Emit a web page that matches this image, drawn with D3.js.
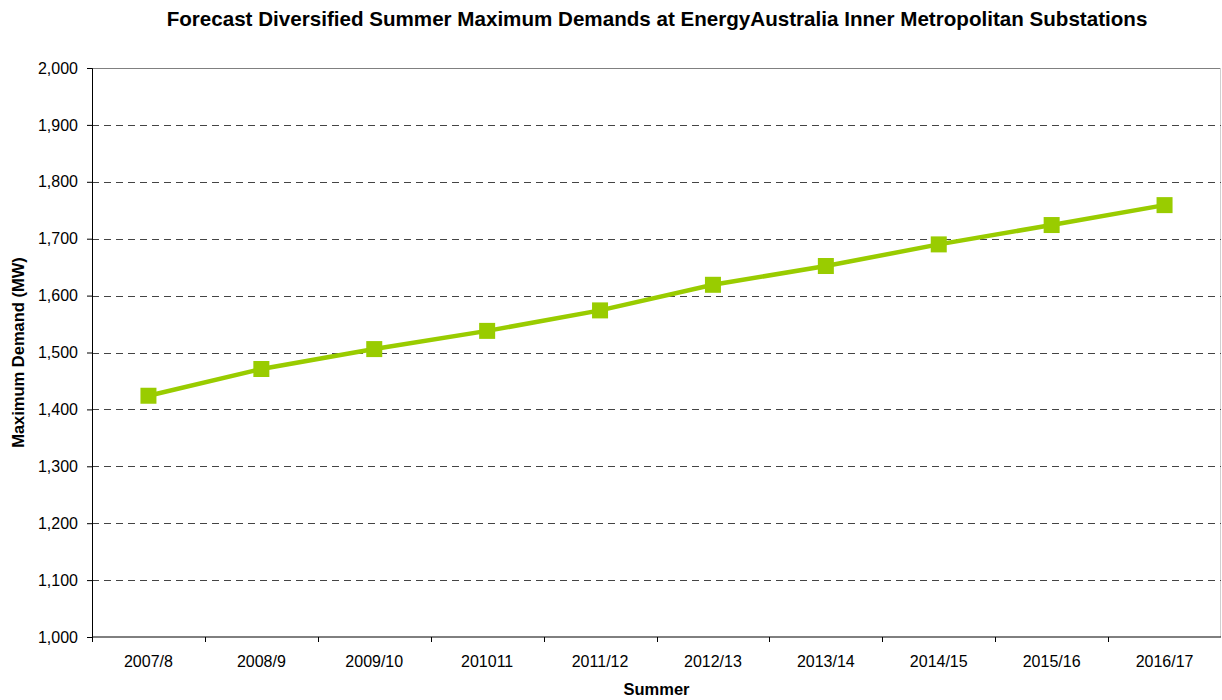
<!DOCTYPE html>
<html>
<head>
<meta charset="utf-8">
<script src="https://cdn.jsdelivr.net/npm/d3@7"></script>
<style>
  body { margin: 0; background: #fff; }
  svg { display: block; font-family: Arial, "Liberation Sans", sans-serif; }
</style>
</head>
<body>
<div id="chart"></div>
<script>
// Chart data
const seasons = ['2007/8', '2008/9', '2009/10', '201011', '2011/12', '2012/13', '2013/14', '2014/15', '2015/16', '2016/17'];
const demand = [1424, 1471, 1506, 1538, 1574, 1619, 1652, 1690, 1724, 1759];
const yTicks = [1000, 1100, 1200, 1300, 1400, 1500, 1600, 1700, 1800, 1900, 2000];

const width = 1222, height = 700;
const margin = { top: 68, right: 1, bottom: 63, left: 92 };
const innerW = width - margin.left - margin.right;
const innerH = height - margin.top - margin.bottom;

const svg = d3.select('#chart').append('svg')
    .attr('width', width)
    .attr('height', height);

// Title
svg.append('text')
    .attr('x', 657)
    .attr('y', 26)
    .attr('text-anchor', 'middle')
    .style('font-size', '20.6px')
    .style('font-weight', 'bold')
    .text('Forecast Diversified Summer Maximum Demands at EnergyAustralia Inner Metropolitan Substations');

const g = svg.append('g').attr('transform', `translate(${margin.left},${margin.top})`);

const x = d3.scaleBand().domain(seasons).range([0, innerW]);
const y = d3.scaleLinear().domain([1000, 2000]).range([innerH, 0]);

// Plot area border (top and right)
g.append('line')
    .attr('x1', 0).attr('x2', innerW)
    .attr('y1', 0.5).attr('y2', 0.5)
    .attr('stroke', '#808080').attr('stroke-width', 1);
g.append('line')
    .attr('x1', innerW - 0.5).attr('x2', innerW - 0.5)
    .attr('y1', 0).attr('y2', innerH)
    .attr('stroke', '#d0d0d0').attr('stroke-width', 1);

// Dashed gridlines
g.selectAll('.grid')
    .data(yTicks.filter(d => d > 1000 && d < 2000))
    .enter()
    .append('line')
    .attr('class', 'grid')
    .attr('x1', 0).attr('x2', innerW)
    .attr('y1', d => Math.round(y(d)) + 0.5)
    .attr('y2', d => Math.round(y(d)) + 0.5)
    .attr('stroke', '#444')
    .attr('stroke-width', 1)
    .attr('stroke-dasharray', '7,5');

// Y axis
const yAxis = g.append('g')
    .call(d3.axisLeft(y).tickValues(yTicks).tickSize(5).tickPadding(9).tickFormat(d3.format(',')));
yAxis.select('.domain').attr('stroke', '#000');
yAxis.selectAll('.tick line').attr('stroke', '#000');
yAxis.selectAll('text').style('font-size', '16px').attr('fill', '#000');

// X axis with ticks on category boundaries
const xAxis = g.append('g').attr('transform', `translate(0,${innerH})`);
xAxis.append('line')
    .attr('x1', 0).attr('x2', innerW)
    .attr('stroke', '#000');
xAxis.selectAll('.xtick')
    .data(seasons)
    .enter()
    .append('line')
    .attr('class', 'xtick')
    .attr('x1', d => Math.round(x(d)) + 0.5)
    .attr('x2', d => Math.round(x(d)) + 0.5)
    .attr('y1', 0).attr('y2', 5)
    .attr('stroke', '#000');
xAxis.selectAll('.xlabel')
    .data(seasons)
    .enter()
    .append('text')
    .attr('class', 'xlabel')
    .attr('x', d => x(d) + x.bandwidth() / 2)
    .attr('y', 30)
    .attr('text-anchor', 'middle')
    .style('font-size', '16px')
    .text(d => d);

// Axis titles
svg.append('text')
    .attr('transform', `translate(24,${margin.top + innerH / 2}) rotate(-90)`)
    .attr('text-anchor', 'middle')
    .style('font-size', '16.5px')
    .style('font-weight', 'bold')
    .text('Maximum Demand (MW)');

svg.append('text')
    .attr('x', margin.left + innerW / 2)
    .attr('y', 695)
    .attr('text-anchor', 'middle')
    .style('font-size', '16.5px')
    .style('font-weight', 'bold')
    .text('Summer');

// Series line
const line = d3.line()
    .x((d, i) => x(seasons[i]) + x.bandwidth() / 2)
    .y(d => y(d));

g.append('path')
    .datum(demand)
    .attr('d', line)
    .attr('fill', 'none')
    .attr('stroke', '#99CC00')
    .attr('stroke-width', 4.5);

// Square markers
const size = 16;
g.selectAll('.marker')
    .data(demand)
    .enter()
    .append('rect')
    .attr('class', 'marker')
    .attr('x', (d, i) => x(seasons[i]) + x.bandwidth() / 2 - size / 2)
    .attr('y', d => y(d) - size / 2)
    .attr('width', size)
    .attr('height', size)
    .attr('fill', '#99CC00');
</script>
</body>
</html>
